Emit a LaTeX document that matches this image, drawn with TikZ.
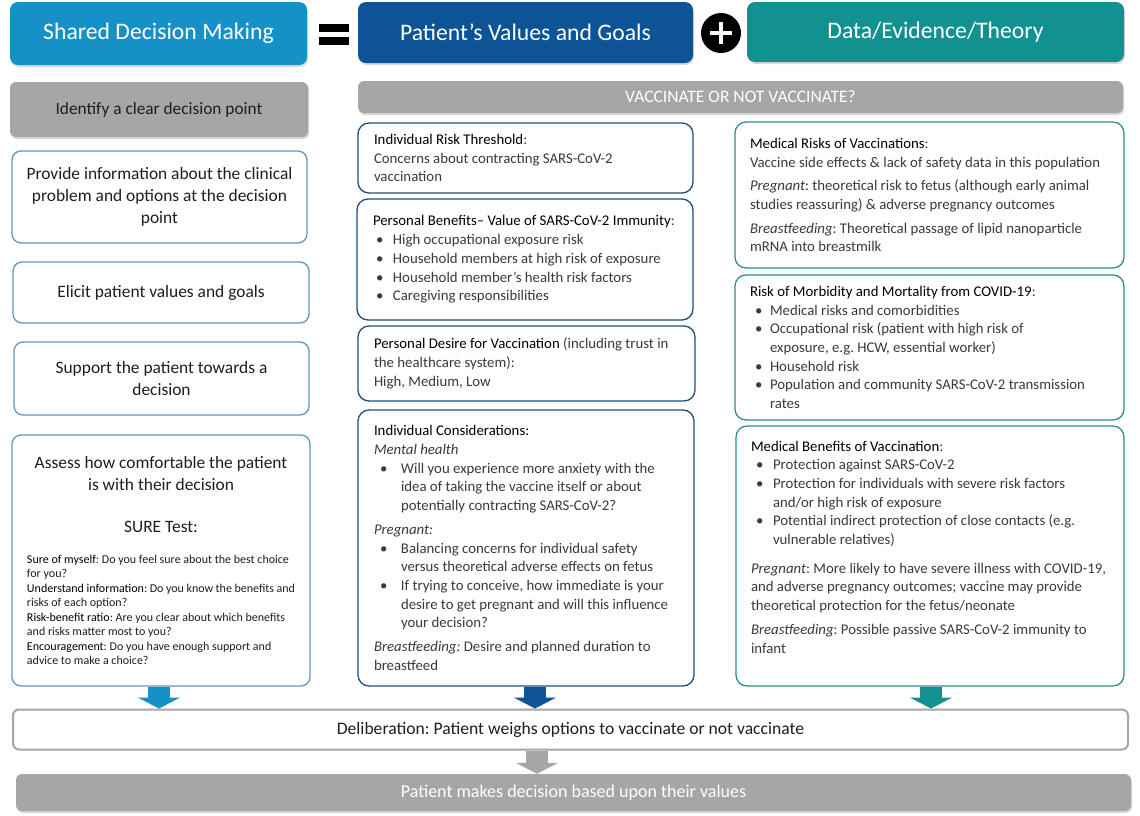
\documentclass[tikz,border=0pt]{standalone}
\usepackage{fontspec}
\setmainfont{Carlito}
\usetikzlibrary{arrows.meta,shadows}
\frenchspacing

\definecolor{sdmblue}{HTML}{1591C8}
\definecolor{pvgblue}{HTML}{0C5496}
\definecolor{detteal}{HTML}{129191}
\definecolor{bargray}{HTML}{A6A6A6}
\definecolor{lborder}{HTML}{6496B8}
\definecolor{mborder}{HTML}{1F4E79}
\definecolor{rborder}{HTML}{2C8E8E}
\definecolor{txtdark}{HTML}{1E1E1E}
\definecolor{txtbody}{HTML}{3A3A3A}

\newlength\bulin
\newlength\bultx
\setlength\bulin{3pt}
\setlength\bultx{20pt}
\newcommand\bitem[1]{\par\noindent\hangindent=\bultx\hangafter=1%
  \hbox to\bultx{\hspace{\bulin}\textbullet\hfil}#1\par}
\newcommand\ttl[1]{{\color{black}#1}}
\newcommand\gap[1][5pt]{\par\vspace{#1}}

\begin{document}
\begin{tikzpicture}[x=1pt, y=-1pt,
  every node/.append style={execute at begin node={\spaceskip=0pt\xspaceskip=0pt}},
  hdr/.style={rounded corners=8pt, text=white, font=\fontsize{23.7}{28}\selectfont,
    drop shadow={opacity=0.3, shadow xshift=1pt, shadow yshift=-2pt}},
  graybar/.style={fill=bargray, rounded corners=6pt,
    drop shadow={opacity=0.3, shadow xshift=1pt, shadow yshift=-2pt}},
  lbox/.style={draw=lborder, line width=1.3pt, rounded corners=9pt, fill=white,
    text=txtdark, align=flush center, font=\fontsize{17.4}{22}\selectfont},
  mbox/.style={draw=mborder, line width=1.3pt, rounded corners=11pt, fill=white,
    text=txtbody, align=left, inner xsep=16pt, font=\fontsize{14.8}{18.7}\selectfont},
  rbox/.style={mbox, draw=rborder, inner xsep=15pt},
  flow/.style={line width=22pt, -{Triangle[width=42pt, length=11pt]}},
]
  \useasboundingbox (0,0) rectangle (1140,815);

  % top row: SDM = values + evidence
  \node[hdr, fill=sdmblue, minimum width=297, minimum height=63] (sdm) at (158.5,33.5) {Shared Decision Making};
  \node[hdr, fill=pvgblue, minimum width=335, minimum height=61] (pvg) at (525.5,32.5) {Patient’s Values and Goals};
  \node[hdr, fill=detteal, minimum width=377, minimum height=60] (det) at (935.5,32) {Data/Evidence/Theory};

  \fill (319,24) rectangle (349,32);
  \fill (319,37) rectangle (349,45);
  \node[circle, fill=black, minimum size=40] (plus) at (721,33) {};
  \draw[white, line width=4.5pt] (plus.center) +(-11,0) -- +(11,0)
                                 (plus.center) +(0,-11) -- +(0,11);

  \node[graybar, minimum width=298, minimum height=55, text=txtdark,
        font=\fontsize{17.3}{20}\selectfont] (ident) at (159,109.5) {Identify a clear decision point};
  \node[graybar, minimum width=765, minimum height=32, text=white,
        font=\fontsize{17.5}{20}\selectfont] (vacq) at (740.5,97) {VACCINATE OR NOT VACCINATE?};

  % left column
  \node[lbox, minimum width=295, minimum height=92, text width=275] (prov) at (159.5,197)
    {Provide information about the clinical\\problem and options at the decision\\point};
  \node[lbox, minimum width=296, minimum height=61, text width=275] (elicit) at (161,292.5)
    {Elicit patient values and goals};
  \node[lbox, minimum width=295, minimum height=73, text width=275] (support) at (161.5,378.5)
    {Support the patient towards a\\decision};
  \node[lbox, minimum width=298, minimum height=251, text width=268, inner xsep=15pt] (assess) at (161,560.5)
    {Assess how comfortable the patient\\is with their decision\\[20pt]
     SURE Test:\\[1pt]
     \parbox[t]{268pt}{\raggedright\fontsize{12}{14.5}\selectfont\spaceskip=0pt\xspaceskip=0pt
      \ttl{Sure of myself}: Do you feel sure about the best choice\\for you?\\
      \ttl{Understand information}: Do you know the benefits and\\risks of each option?\\
      \ttl{Risk-benefit ratio}: Are you clear about which benefits\\and risks matter most to you?\\
      \ttl{Encouragement}: Do you have enough support and\\advice to make a choice?}\\[6pt]};

  % middle column
  \node[mbox, minimum width=335, minimum height=70, text width=303] (thresh) at (525.5,158)
    {\ttl{Individual Risk Threshold}:\\Concerns about contracting SARS-CoV-2\\vaccination};
  \node[mbox, minimum width=336, minimum height=121, text width=304] (benefit) at (525,259.5)
    {\ttl{Personal Benefits– Value of SARS-CoV-2 Immunity}:
     \bitem{High occupational exposure risk}
     \bitem{Household members at high risk of exposure}
     \bitem{Household member’s health risk factors}
     \bitem{Caregiving responsibilities}};
  \node[mbox, minimum width=337, minimum height=75, text width=305] (desire) at (526.5,363.5)
    {\ttl{Personal Desire for Vaccination} (including trust in\\the healthcare system):\\High, Medium, Low};
  \node[mbox, minimum width=336, minimum height=276, text width=304] (consid) at (526,548)
    {\setlength\bulin{6pt}\setlength\bultx{27pt}%
     \ttl{Individual Considerations:}\\\textit{Mental health}
     \bitem{Will you experience more anxiety with the\newline idea of taking the vaccine itself or about\newline potentially contracting SARS-CoV-2?}
     \gap\textit{Pregnant:}
     \bitem{Balancing concerns for individual safety\newline versus theoretical adverse effects on fetus}
     \bitem{If trying to conceive, how immediate is your\newline desire to get pregnant and will this influence\newline your decision?}
     \gap\textit{Breastfeeding:} Desire and planned duration to\\breastfeed};

  % right column
  \node[rbox, minimum width=389, minimum height=146, text width=359] (medrisk) at (929.5,195)
    {\ttl{Medical Risks of Vaccinations}:\\Vaccine side effects \& lack of safety data in this population
     \gap\textit{Pregnant}: theoretical risk to fetus (although early animal\\studies reassuring) \& adverse pregnancy outcomes
     \gap\textit{Breastfeeding}: Theoretical passage of lipid nanoparticle\\mRNA into breastmilk};
  \node[rbox, minimum width=389, minimum height=145, text width=359] (morb) at (929.5,347.5)
    {\setlength\bulin{5pt}%
     \ttl{Risk of Morbidity and Mortality from COVID-19}:
     \bitem{Medical risks and comorbidities}
     \bitem{Occupational risk (patient with high risk of\newline exposure, e.g. HCW, essential worker)}
     \bitem{Household risk}
     \bitem{Population and community SARS-CoV-2 transmission\newline rates}};
  \node[rbox, minimum width=388, minimum height=260, text width=358] (medben) at (930,556)
    {\setlength\bulin{5pt}\setlength\bultx{22pt}%
     \ttl{Medical Benefits of Vaccination}:
     \bitem{Protection against SARS-CoV-2}
     \bitem{Protection for individuals with severe risk factors\newline and/or high risk of exposure}
     \bitem{Potential indirect protection of close contacts (e.g.\newline vulnerable relatives)}
     \gap[10pt]\textit{Pregnant}: More likely to have severe illness with COVID-19,\\and adverse pregnancy outcomes; vaccine may provide\\theoretical protection for the fetus/neonate
     \gap\textit{Breastfeeding}: Possible passive SARS-CoV-2 immunity to\\infant\gap[18pt]};

  % bottom: deliberation and decision
  \node[draw=bargray, line width=2pt, rounded corners=6pt, fill=white, minimum width=1115, minimum height=40,
        text=txtdark, font=\fontsize{17.6}{20}\selectfont] (delib) at (570.5,729.5)
    {Deliberation: Patient weighs options to vaccinate or not vaccinate};
  \node[graybar, minimum width=1115, minimum height=37, text=white,
        font=\fontsize{18}{20}\selectfont] (final) at (573.5,792.5)
    {Patient makes decision based upon their values};

  \coordinate (al) at (159,0);
  \coordinate (am) at (535,0);
  \coordinate (ar) at (931,0);
  \coordinate (ag) at (537,0);
  \draw[flow, sdmblue] (al |- assess.south) -- (al |- delib.north);
  \draw[flow, pvgblue] (am |- consid.south) -- (am |- delib.north);
  \draw[flow, detteal] (ar |- medben.south) -- (ar |- delib.north);
  \draw[flow, bargray] (ag |- delib.south) -- (ag |- final.north);
\end{tikzpicture}
\end{document}
